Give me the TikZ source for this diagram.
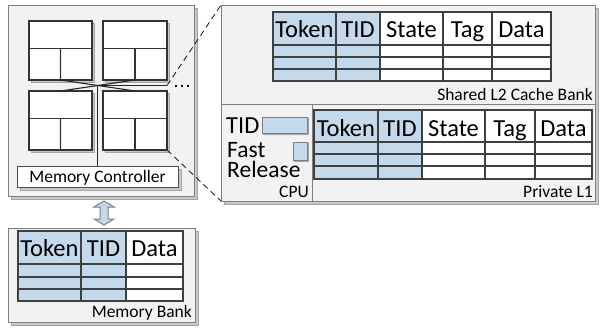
\documentclass[tikz,border=0pt]{standalone}
\usepackage{fontspec}
\setmainfont{Carlito}
\usetikzlibrary{calc}
\definecolor{cellblue}{HTML}{C5D9EC}
\definecolor{panelgray}{HTML}{F2F2F2}
\definecolor{edgegray}{HTML}{7F7F7F}
\definecolor{gridline}{HTML}{404040}
\definecolor{shadowgray}{HTML}{C8C8C8}
\tikzset{
  panel/.style={fill=panelgray, draw=edgegray, line width=1pt},
  tile/.style={fill=white, draw=black!80, line width=1.2pt},
  bluebox/.style={fill=cellblue, draw=edgegray, line width=1pt},
  grid/.style={draw=gridline, line width=1.1pt},
  big/.style={font=\fontsize{24.5}{17}\selectfont, inner sep=0pt},
  cpufont/.style={font=\fontsize{23.5}{20}\selectfont, inner sep=0pt},
  small/.style={font=\fontsize{17.5}{19}\selectfont, inner sep=0pt},
  link/.style={draw=black!85, line width=1.1pt},
  zoomline/.style={draw=black!85, line width=0.9pt, dash pattern=on 6pt off 4pt},
  blockarrow/.style={fill=cellblue, draw=edgegray, line width=1pt, line join=miter},
}
% box with a flat offset shadow: style, shadow offset, name, x1, y1, x2, y2
\newcommand\shadedbox[7]{%
  \filldraw[fill=shadowgray, draw=edgegray!70, line width=0.8pt]
    (#4+#2,#5+#2) rectangle (#6+#2,#7+#2);
  \node[#1, anchor=north west, minimum width={#6-#4}, minimum height={#7-#5},
        inner sep=0pt, outer sep=0pt] (#3) at (#4,#5) {};
}
\begin{document}
\begin{tikzpicture}[x=1pt, y=-1pt]
\useasboundingbox (0,0) rectangle (600,327);

% ---------- chip with four tiles ----------
\shadedbox{panel}{3}{chip}{8}{5}{194}{196}
\shadedbox{tile}{2}{tl}{29}{21}{92}{80}
\shadedbox{tile}{2}{tr}{103}{21}{167}{80}
\shadedbox{tile}{2}{bl}{29}{91}{92}{150}
\shadedbox{tile}{2}{br}{103}{91}{167}{150}
\foreach \t in {tl,tr,bl,br}{
  \draw[tile] ($(\t.north west)!0.46!(\t.south west)$) -- ($(\t.north east)!0.46!(\t.south east)$);
  \draw[tile] ($(\t.north)!0.46!(\t.south)$) -- (\t.south);
}
\shadedbox{panel,fill=white,draw=black!70}{3}{mc}{17}{166}{178}{187}
\node[small, anchor=base] (mclabel) at (97.5,182) {Memory Controller};

% on-chip network
\coordinate (hub) at (97.75,85.5);
\coordinate (edge) at (167,85.5);
\draw[link] (tl.south) -- (br.north);
\draw[link] (tr.south) -- (bl.north);
\draw[link] (hub) -- (mc.north -| hub);
\draw[link] (hub) -- (edge);
\foreach \x in {176,182,188} \fill[black] (\x-1.1,84.6) rectangle (\x+1.1,86.8);

% ---------- tile detail ----------
\shadedbox{panel}{3}{detail}{221}{5}{595}{201}
\draw[draw=edgegray, line width=1pt] (221,104) -- (595,104);
\draw[draw=edgegray, line width=1pt] (312,104) -- (312,201);

\draw[zoomline] (edge) -- (detail.north west);
\draw[zoomline] (br.south east) -- (detail.south west);

% shared L2 table
\fill[cellblue] (273,12) rectangle (380,81);
\fill[white] (380,12) rectangle (551,81);
\foreach \y in {45,57,69} \draw[grid] (273,\y) -- (551,\y);
\foreach \x in {336,380,443,492} \draw[grid] (\x,12) -- (\x,81);
\draw[grid] (273,12) rectangle (551,81);
\node[big, anchor=base] (l2tok) at (304.5,37) {Token};
\node[big, anchor=base] (l2tid) at (358,37) {TID};
\node[big, anchor=base] (l2st) at (411.5,37) {State};
\node[big, anchor=base] (l2tag) at (467.5,37) {Tag};
\node[big, anchor=base] (l2dat) at (521.5,37) {Data};
\node[small, anchor=base east] (l2label) at (593,100) {Shared L2 Cache Bank};

% private L1 table
\fill[cellblue] (314,110) rectangle (422,179);
\fill[white] (422,110) rectangle (592,179);
\foreach \y in {142,154,166} \draw[grid] (314,\y) -- (592,\y);
\foreach \x in {378,422,485,535} \draw[grid] (\x,110) -- (\x,179);
\draw[grid] (314,110) rectangle (592,179);
\node[big, anchor=base] (l1tok) at (346,136) {Token};
\node[big, anchor=base] (l1tid) at (400,136) {TID};
\node[big, anchor=base] (l1st) at (453.5,136) {State};
\node[big, anchor=base] (l1tag) at (510,136) {Tag};
\node[big, anchor=base] (l1dat) at (563.5,136) {Data};
\node[small, anchor=base east] (l1label) at (593,197) {Private L1};

% CPU registers
\node[big, anchor=base west] (tidlabel) at (226,133) {TID};
\shadedbox{bluebox}{1.5}{tidreg}{262}{117}{307}{133}
\node[cpufont, anchor=base west, align=left] (fastlabel) at (227,177) {Fast\\Release};
\shadedbox{bluebox}{1.5}{fastreg}{293}{142}{307}{160}
\node[small, anchor=base east] (cpulabel) at (309,197) {CPU};

% ---------- memory bank ----------
\shadedbox{panel}{3}{bank}{8}{228}{195}{322}
\fill[cellblue] (18,231) rectangle (126,301);
\fill[white] (126,231) rectangle (183,301);
\foreach \y in {264,277,289} \draw[grid] (18,\y) -- (183,\y);
\foreach \x in {81,126} \draw[grid] (\x,231) -- (\x,301);
\draw[grid] (18,231) rectangle (183,301);
\node[big, anchor=base] (mbtok) at (49.5,256) {Token};
\node[big, anchor=base] (mbtid) at (103.5,256) {TID};
\node[big, anchor=base] (mbdat) at (154.5,256) {Data};
\node[small, anchor=base east] (mblabel) at (192,317) {Memory Bank};

% controller <-> bank link
\coordinate (up) at (104,201);
\coordinate (down) at (104,225);
\draw[blockarrow] (up) -- ++(10,6) -- ++(-6,0) -- ++(0,12) -- ++(6,0)
  -- (down) -- ++(-10,-6) -- ++(6,0) -- ++(0,-12) -- ++(-6,0) -- cycle;
\end{tikzpicture}
\end{document}
